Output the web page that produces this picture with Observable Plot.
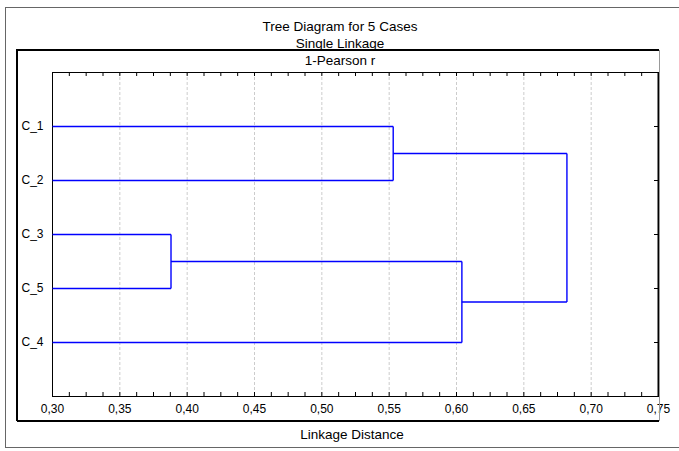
<!DOCTYPE html>
<html>
<head>
<meta charset="utf-8">
<script src="https://cdn.jsdelivr.net/npm/d3@7"></script>
<script src="https://cdn.jsdelivr.net/npm/@observablehq/plot@0.6"></script>
<style>
  html, body { margin: 0; padding: 0; background: white; }
</style>
</head>
<body>
<script>
// ---- data ----
const leaves = ["C_1", "C_2", "C_3", "C_5", "C_4"];          // order on the tree
const mergeNames = ["M1", "M2", "M3", "M4"];
const mergeLeft = ["C_1", "C_3", "M2", "M1"];
const mergeRight = ["C_2", "C_5", "C_4", "M3"];
const mergeHeight = [0.553, 0.388, 0.604, 0.682];              // linkage distance
const xTicks = [0.30, 0.35, 0.40, 0.45, 0.50, 0.55, 0.60, 0.65, 0.70, 0.75];
const xDomain = [0.30, 0.75];
const titleLines = ["Tree Diagram for 5 Cases", "Single Linkage", "1-Pearson r"];
const xLabel = "Linkage Distance";

// ---- build dendrogram segments ----
const node = new Map();
leaves.forEach((name, i) => node.set(name, {y: i + 1, h: xDomain[0]}));
const segments = [];
mergeNames.forEach((name, i) => {
  const a = node.get(mergeLeft[i]), b = node.get(mergeRight[i]), h = mergeHeight[i];
  segments.push({x1: a.h, y1: a.y, x2: h, y2: a.y});
  segments.push({x1: b.h, y1: b.y, x2: h, y2: b.y});
  segments.push({x1: h, y1: a.y, x2: h, y2: b.y});
  node.set(name, {y: (a.y + b.y) / 2, h});
});

const W = 679, H = 451;
const mL = 52, mR = 21, mT = 72, mB = 55;
const innerW = W - mL - mR, innerH = H - mT - mB;
const minorTicks = d3.range(0, 37).map(i => xDomain[0] + i * 0.0125);
const fmt = d => d.toFixed(2).replace(".", ",");

const chart = Plot.plot({
  width: W, height: H,
  marginLeft: mL, marginRight: mR, marginTop: mT, marginBottom: mB,
  style: {fontFamily: "'Liberation Sans', Arial, sans-serif", fontSize: "12px", background: "white", color: "black"},
  x: {domain: xDomain, label: null},
  y: {domain: [0, leaves.length + 1], reverse: true, label: null},
  marks: [
    Plot.ruleX(xTicks.slice(1, -1), {x: d => d, stroke: "#cccccc", strokeDasharray: "3,2", strokeWidth: 1}),
    Plot.ruleX(minorTicks, {x: d => d, insetTop: innerH - 4, stroke: "black"}),
    Plot.ruleX(minorTicks, {x: d => d, insetBottom: innerH - 4, stroke: "black"}),
    Plot.ruleY(leaves.map((d, i) => i + 1), {y: d => d, insetLeft: innerW - 4, stroke: "black"}),
    Plot.frame({stroke: "black", strokeWidth: 1}),
    Plot.ruleX([xDomain[1]], {x: d => d, stroke: "black", strokeWidth: 2}),
    Plot.link(segments, {x1: "x1", y1: "y1", x2: "x2", y2: "y2", stroke: "#0000ff", strokeWidth: 1.4}),
    Plot.axisX({ticks: xTicks, tickFormat: fmt, tickSize: 0, tickPadding: 8, label: null, fontSize: 12}),
    Plot.axisY({ticks: leaves.map((d, i) => i + 1), tickFormat: i => leaves[i - 1], tickSize: 0, tickPadding: 9, label: null, fontSize: 12})
  ]
});

const svg = d3.select(chart);
// outer border
svg.append("rect").attr("x", 5.5).attr("y", 7.5).attr("width", W).attr("height", 440)
  .attr("fill", "none").attr("stroke", "#666").attr("stroke-width", 1);
// thick inner frame (top, left, bottom), thin right
svg.append("path").attr("d", "M17,421V50H659").attr("fill", "none").attr("stroke", "black").attr("stroke-width", 2);
svg.append("path").attr("d", "M17,421H659").attr("fill", "none").attr("stroke", "black").attr("stroke-width", 2);
svg.append("path").attr("d", "M659.5,50V421").attr("fill", "none").attr("stroke", "#999").attr("stroke-width", 1);
// titles
const tY = [26, 43, 60];
titleLines.forEach((t, i) => {
  svg.append("text").attr("x", 340).attr("y", tY[i]).attr("dy", "0.35em")
    .attr("text-anchor", "middle").attr("font-size", 13.5).attr("fill", "black").text(t);
});
svg.append("text").attr("x", 352).attr("y", 434).attr("dy", "0.35em")
  .attr("text-anchor", "middle").attr("font-size", 13.5).attr("fill", "black").text(xLabel);

document.body.appendChild(chart);
</script>
</body>
</html>
